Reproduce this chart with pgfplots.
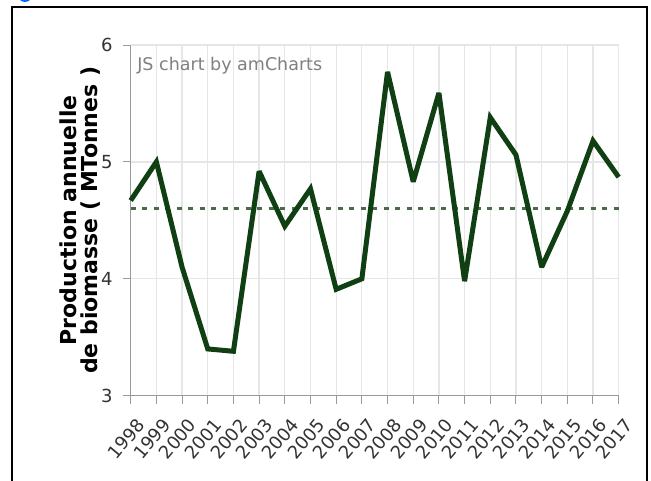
\documentclass[border=0pt]{standalone}
\usepackage{pgfplots}
\pgfplotsset{compat=1.18}
\usepackage{fontspec}
\setmainfont{DejaVu Sans}
\definecolor{lineg}{HTML}{0F3F12}
\definecolor{dashg}{HTML}{4A6B47}
\definecolor{gridc}{HTML}{E6E6E6}
\definecolor{axc}{HTML}{9A9A9A}
\definecolor{txt}{HTML}{333333}
\begin{document}
\begin{tikzpicture}
\path[use as bounding box] (0pt,0pt) rectangle (651pt,480pt);
\clip (0pt,0pt) rectangle (651pt,480pt);
\fill[white] (0pt,0pt) rectangle (651pt,480pt);
\fill[blue!60!cyan] (25pt,485pt) circle (7pt);
\draw[black, line width=2pt] (12pt,-10pt) rectangle (647pt,473pt);
\begin{axis}[
  at={(130.7pt,84.3pt)}, anchor=south west,
  scale only axis, width=488pt, height=350.7pt,
  xmin=1998, xmax=2017, ymin=3, ymax=6,
  xtick={1998,...,2017}, ytick={3,4,5,6},
  /pgf/number format/1000 sep={},
  /pgf/number format/assume math mode=true,
  axis x line=bottom, axis y line=left,
  axis line style={-, axc, line width=1.2pt},
  tick align=outside, major tick length=8pt,
  tick style={axc, line width=1pt},
  grid=major, major grid style={gridc, line width=1.3pt},
  tick label style={font=\fontsize{18}{20}\selectfont, text=txt},
  xticklabel style={xshift=5pt, yshift=-13pt, rotate=50, anchor=north east, inner sep=0pt},
  yticklabel style={inner sep=2pt, xshift=-8pt},
  ylabel={Production annuelle\\de biomasse ( MTonnes )},
  ylabel style={align=center, font=\bfseries\fontsize{22}{21}\selectfont,
    at={(axis description cs:-0.1045,0.5)}, anchor=center},
  clip=false,
]
\node[anchor=west, text=gray, font=\fontsize{17.5}{19}\selectfont, inner sep=0pt] at (axis cs:1998.25,5.82) {JS chart by amCharts};
\addplot[dashg, line width=3.5pt, dash pattern=on 5pt off 6.5pt] coordinates {(1998,4.6) (2017,4.6)};
\addplot[lineg, line width=5pt, line join=miter, miter limit=3] coordinates {
(1998,4.67) (1999,5.00) (2000,4.10) (2001,3.40) (2002,3.38) (2003,4.92)
(2004,4.45) (2005,4.77) (2006,3.91) (2007,4.00) (2008,5.77) (2009,4.83)
(2010,5.59) (2011,3.98) (2012,5.38) (2013,5.06) (2014,4.10) (2015,4.58)
(2016,5.18) (2017,4.87)};
\end{axis}
\end{tikzpicture}
\end{document}
